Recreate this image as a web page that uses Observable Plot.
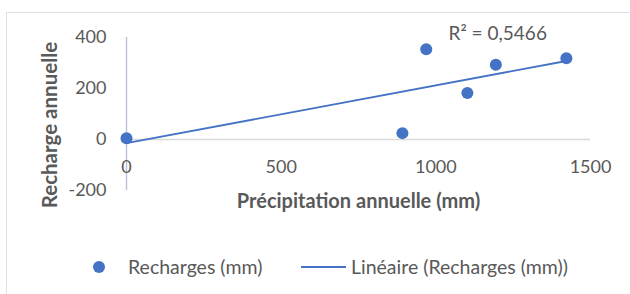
<!DOCTYPE html>
<html>
<head>
<meta charset="utf-8">
<script src="https://cdn.jsdelivr.net/npm/d3@7"></script>
<script src="https://cdn.jsdelivr.net/npm/@observablehq/plot@0.6"></script>
<style>
  html, body { margin: 0; padding: 0; background: #fff; }
  #wrap { position: relative; width: 630px; height: 294px; overflow: hidden; font-family: Lato, "Open Sans", sans-serif; color: #595959; }
  #frame { position: absolute; left: 6px; top: 12px; width: 700px; height: 400px; border: 1.5px solid #DDE1E6; box-sizing: border-box; }
  #chart { position: absolute; left: 0; top: 0; }
  #legend { position: absolute; left: 0; top: 255px; width: 630px; height: 24px; font-size: 19.5px; color: #595959; }
  .lg { position: absolute; top: 0; line-height: 24px; white-space: nowrap; display: block; }
</style>
</head>
<body>
<div id="wrap">
  <div id="frame"></div>
  <div id="chart"></div>
  <div id="legend">
    <div class="lg" style="left:93px;top:6px;width:12px;height:12px;border-radius:50%;background:#4472C4;"></div>
    <div class="lg" style="left:128px;">Recharges (mm)</div>
    <div class="lg" style="left:301px;top:11px;width:45px;height:2px;background:#4472C4;"></div>
    <div class="lg" style="left:351px;">Linéaire (Recharges (mm))</div>
  </div>
</div>
<script>
// Data
const precipitation = [0, 892, 969, 1102, 1194, 1422];   // Précipitation annuelle (mm)
const recharge      = [5, 25, 354, 182, 293, 319];       // Recharges (mm)
const xTicks = [0, 500, 1000, 1500];
const yTicks = [-200, 0, 200, 400];
const r2Label = "R\u00B2 = 0,5466";
const xTitle = "Précipitation annuelle (mm)";
const yTitle = "Recharge annuelle";

const data = precipitation.map((p, i) => ({p, r: recharge[i]}));
const blue = "#4472C4";
const grey = "#595959";
const fmt = d => String(d);

const chart = Plot.plot({
  width: 630,
  height: 230,
  marginLeft: 126,
  marginRight: 40,
  marginTop: 37,
  marginBottom: 40,
  style: {fontFamily: "Lato, 'Open Sans', sans-serif", background: "transparent", color: grey, overflow: "visible"},
  x: {domain: [0, 1500]},
  y: {domain: [-200, 400]},
  marks: [
    Plot.ruleY([0], {stroke: "#D9D9D9", strokeWidth: 1.5}),
    Plot.ruleX([0], {y1: -200, y2: 400, stroke: "#BCC5D3", strokeWidth: 1.5}),
    Plot.axisY({ticks: yTicks, tickFormat: fmt, tickSize: 0, tickPadding: 20, label: null, fontSize: 18, fill: grey}),
    Plot.axisX({ticks: xTicks, tickFormat: fmt, tickSize: 0, tickPadding: 0, label: null, fontSize: 18, fill: grey, dy: -30}),
    Plot.linearRegressionY(data, {x: "p", y: "r", stroke: blue, strokeWidth: 1.8, ci: 0}),
    Plot.dot(data, {x: "p", y: "r", r: 6, fill: blue, stroke: null}),
    Plot.text([r2Label], {x: 1200, y: 416, text: d => d, fontSize: 19, fill: grey}),
    Plot.text([xTitle], {frameAnchor: "bottom", dy: 17, text: d => d, fontSize: 20, fontWeight: "bold", fill: grey}),
    Plot.text([yTitle], {frameAnchor: "left", textAnchor: "middle", dx: -76, dy: 11, rotate: -90, text: d => d, fontSize: 20.5, fontWeight: "bold", fill: grey})
  ]
});
document.getElementById("chart").appendChild(chart);
</script>
</body>
</html>
